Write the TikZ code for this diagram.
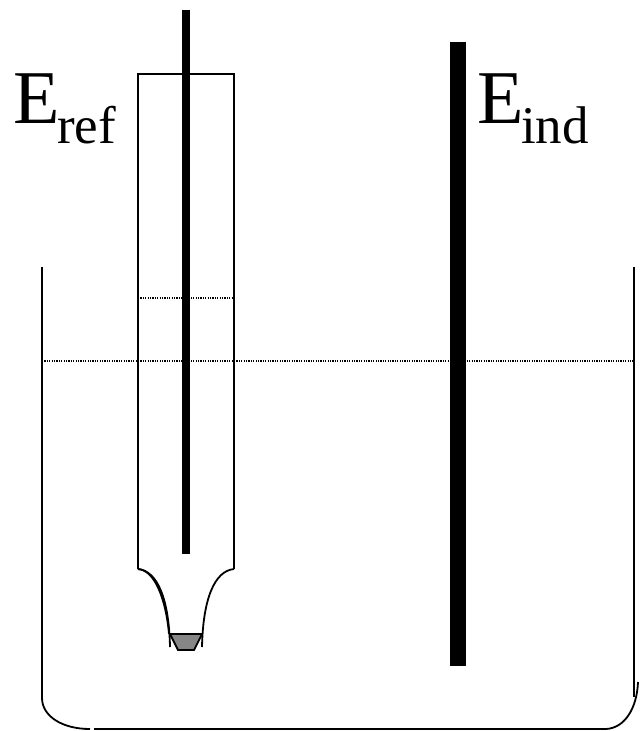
\documentclass[tikz,border=0pt]{standalone}
\usepackage{fontspec}
\setmainfont{Liberation Serif}
\tikzset{
  wall/.style={draw=black,line width=1.8pt},
  level/.style={draw=black,line width=1.2pt,dash pattern=on 1.2pt off 1.2pt},
  rod/.style={fill=black,draw=none},
  big/.style={anchor=base west,inner sep=0pt,font=\fontsize{76}{76}\selectfont},
  small/.style={anchor=base west,inner sep=0pt,font=\fontsize{53}{53}\selectfont}
}
\begin{document}
\begin{tikzpicture}[x=1pt,y=-1pt]
\useasboundingbox (0,0) rectangle (641,731);
% beaker
\draw[wall] (42,267) -- (42,698) .. controls (42,716) and (62,729) .. (90,729);
\draw[wall] (94,729) -- (606,729) .. controls (625,728) and (637,708) .. (638,682);
\draw[wall] (634,267) -- (634,697);
% levels
\draw[level] (42,361) -- (634,361);
\draw[level] (138,298) -- (234,298);
% reference tube
\fill[gray!95] (170,634) -- (202,634) -- (194,650) -- (178,650) -- cycle;
\draw[wall] (170,634) -- (178,650) -- (194,650) -- (202,634);
\draw[wall] (170,634) -- (202,634);
\draw[wall] (138,569) -- (138,74) -- (234,74) -- (234,569);
\draw[wall] (138,569) .. controls (158,571) and (169,600) .. (170,647);
\draw[wall] (138,569) .. controls (155,570) and (166,600) .. (169,634);
\draw[wall] (234,569) .. controls (214,571) and (203,600) .. (202,647);
% electrodes
\fill[rod] (182,10) rectangle (190,554);
\fill[rod] (450,42) rectangle (466,666);
% labels
\node[big] (eref) at (13,123) {E};
\node[small] (sref) at (57,143) {ref};
\node[big] (eind) at (477,123) {E};
\node[small] (sind) at (521,143) {ind};
\end{tikzpicture}
\end{document}
